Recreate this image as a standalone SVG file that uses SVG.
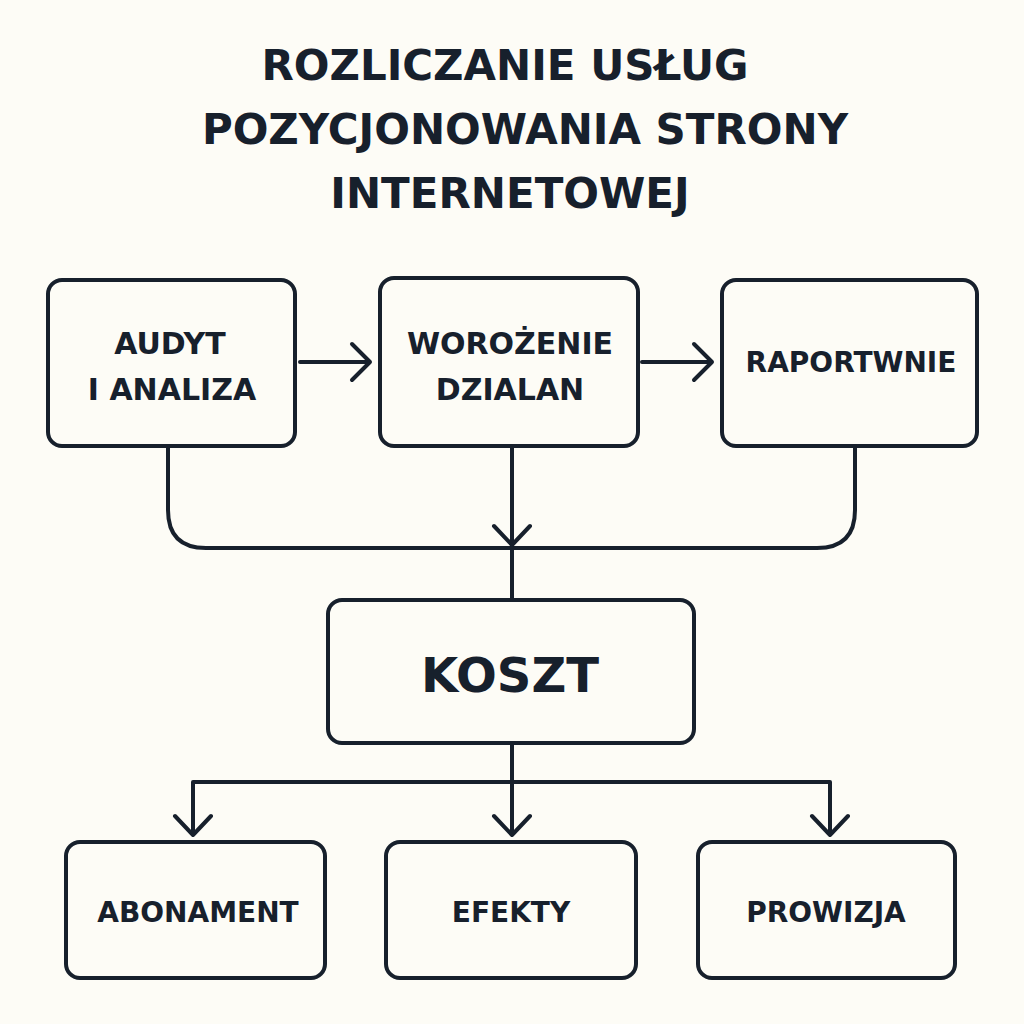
<svg xmlns="http://www.w3.org/2000/svg" width="1024" height="1024" viewBox="0 0 1024 1024">
<style>
.b{fill:#fdfcf6;stroke:#17202c;stroke-width:4}
.t{font-family:"DejaVu Sans",sans-serif;fill:#17202c;text-anchor:middle;font-weight:bold}
.c{fill:none;stroke:#17202c;stroke-width:4;stroke-linecap:round;stroke-linejoin:round}
</style>
<rect width="1024" height="1024" fill="#fdfcf6"/>
<g id="title" class="t" font-size="42">
<text x="505" y="80">ROZLICZANIE USŁUG</text>
<text x="525" y="144">POZYCJONOWANIA STRONY</text>
<text x="510" y="208">INTERNETOWEJ</text>
</g>
<g id="connectors" class="c">
<path d="M300 362H370M352 344L370 362L352 380"/>
<path d="M642 362H712M694 344L712 362L694 380"/>
<path d="M168 448V510Q168 548 206 548H817Q855 548 855 510V448"/>
<path d="M512 448V545M494 526L512 545L530 526"/>
<path d="M512 548V600"/>
<path d="M512 743V835M494 816L512 835L530 816"/>
<path d="M193 835V782H830V835M175 816L193 835L211 816M812 816L830 835L848 816"/>
</g>
<g id="n1"><rect class="b" x="48" y="280" width="247" height="166" rx="14"/><text class="t" font-size="30" x="170" y="354">AUDYT</text><text class="t" font-size="30" x="172" y="400">I ANALIZA</text></g>
<g id="n2"><rect class="b" x="380" y="278" width="258" height="168" rx="14"/><text class="t" font-size="30" x="510" y="354">WOROŻENIE</text><text class="t" font-size="30" x="510" y="400">DZIALAN</text></g>
<g id="n3"><rect class="b" x="722" y="280" width="255" height="166" rx="14"/><text class="t" font-size="28" x="851" y="372">RAPORTWNIE</text></g>
<g id="n4"><rect class="b" x="328" y="600" width="366" height="143" rx="14"/><text class="t" font-size="48" x="510" y="692">KOSZT</text></g>
<g id="n5"><rect class="b" x="66" y="842" width="259" height="136" rx="14"/><text class="t" font-size="28" x="198" y="922">ABONAMENT</text></g>
<g id="n6"><rect class="b" x="386" y="842" width="250" height="136" rx="14"/><text class="t" font-size="28" x="511" y="922">EFEKTY</text></g>
<g id="n7"><rect class="b" x="698" y="842" width="257" height="136" rx="14"/><text class="t" font-size="28" x="826" y="922">PROWIZJA</text></g>
</svg>
